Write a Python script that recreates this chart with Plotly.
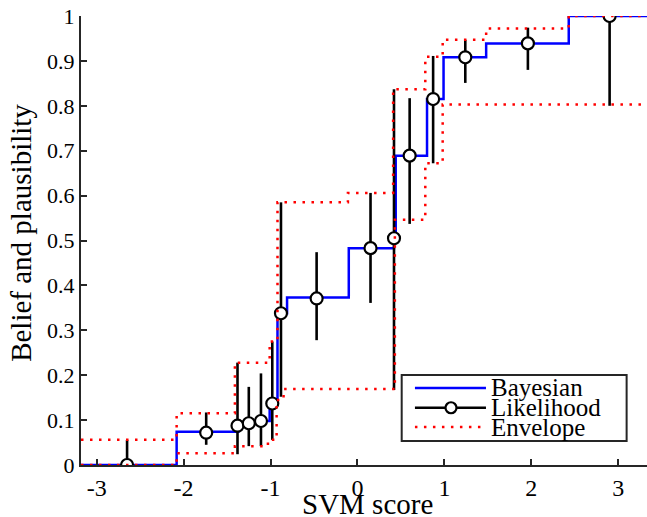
import plotly.graph_objects as go

# Bayesian step function (value holds from x[i] to x[i+1])
bayes_x = [-3.18, -2.08, -1.37, -1.30, -1.17, -1.01, -0.92, -0.81, -0.10, 0.42, 0.44, 0.80, 0.99, 1.48, 2.43, 3.33]
bayes_y = [0.0, 0.074, 0.0875, 0.093, 0.098, 0.137, 0.338, 0.373, 0.483, 0.505, 0.689, 0.815, 0.908, 0.939, 1.0, 1.0]

# Likelihood points with intervals
lik_x = [-2.65, -1.74, -1.38, -1.25, -1.11, -0.98, -0.88, -0.47, 0.15, 0.42, 0.60, 0.87, 1.24, 1.96, 2.90]
lik_y = [0.0, 0.072, 0.0875, 0.093, 0.098, 0.137, 0.338, 0.371, 0.483, 0.505, 0.689, 0.815, 0.908, 0.939, 1.0]
lik_hi = [0.056, 0.117, 0.228, 0.174, 0.204, 0.275, 0.585, 0.474, 0.606, 0.837, 0.817, 0.911, 0.947, 0.974, 1.0]
lik_lo = [0.0, 0.045, 0.024, 0.042, 0.042, 0.056, 0.152, 0.278, 0.361, 0.167, 0.537, 0.672, 0.851, 0.880, 0.80]

# Envelope (upper / lower step functions)
up_x = [-3.18, -2.08, -1.41, -1.01, -0.92, -0.11, 0.41, 0.78, 0.98, 1.48, 2.43, 3.33]
up_y = [0.056, 0.115, 0.228, 0.275, 0.585, 0.606, 0.837, 0.909, 0.947, 0.972, 1.0, 1.0]
lo_x = [-3.18, -2.08, -1.41, -1.03, -0.93, -0.85, 0.43, 0.78, 0.98, 3.33]
lo_y = [0.0, 0.026, 0.042, 0.056, 0.145, 0.169, 0.546, 0.672, 0.803, 0.803]

x_ticks = [-3, -2, -1, 0, 1, 2, 3]
x_ticktext = ["-3", "-2", "-1", "0", "1", "2", "3"]
y_ticks = [0, 0.1, 0.2, 0.3, 0.4, 0.5, 0.6, 0.7, 0.8, 0.9, 1]
y_ticktext = ["0", "0.1", "0.2", "0.3", "0.4", "0.5", "0.6", "0.7", "0.8", "0.9", "1"]

legend_names = ["Bayesian", "Likelihood", "Envelope"]
x_title = "SVM score"
y_title = "Belief and plausibility"

FONT = "Liberation Serif"
FS_XTICK = 24
FS_YTICK = 22
FS_LEG = 25
FS_TITLE = 29
AX = "#262626"
RED_DASH = "2.5px,6.5px"

lik_plus = [h - y for h, y in zip(lik_hi, lik_y)]
lik_minus = [y - l for y, l in zip(lik_y, lik_lo)]

fig = go.Figure()
fig.add_trace(go.Scatter(x=bayes_x, y=bayes_y, mode="lines", line=dict(color="#0000ff", width=2.5, shape="hv"),
                         showlegend=False, name=legend_names[0]))
fig.add_trace(go.Scatter(x=lik_x, y=lik_y, mode="markers",
                         marker=dict(symbol="circle", size=12, color="white", line=dict(color="black", width=2.2)),
                         error_y=dict(type="data", array=lik_plus, arrayminus=lik_minus, color="black",
                                      thickness=2.6, width=0),
                         showlegend=False, name=legend_names[1]))
for xs, ys in ((up_x, up_y), (lo_x, lo_y)):
    fig.add_trace(go.Scatter(x=xs, y=ys, mode="lines",
                             line=dict(color="#ff0000", width=2.5, shape="hv", dash=RED_DASH),
                             showlegend=False, name=legend_names[2]))

# manual legend (paper coordinates)
bx0, bx1, by0, by1 = 0.5666, 0.964, 0.0535, 0.2004
fig.add_shape(type="rect", xref="paper", yref="paper", x0=bx0, x1=bx1, y0=by0, y1=by1,
              line=dict(color=AX, width=2), fillcolor="white", layer="above")
rows = [0.1715, 0.1275, 0.0846]
lx0, lx1, lxm, tx = 0.590, 0.7155, 0.6537, 0.720
styles = [dict(color="#0000ff", width=2.5), dict(color="black", width=2.5),
          dict(color="#ff0000", width=2.5, dash=RED_DASH)]
for ry, st, name in zip(rows, styles, legend_names):
    fig.add_shape(type="line", xref="paper", yref="paper", x0=lx0, x1=lx1, y0=ry, y1=ry, line=st, layer="above")
    fig.add_annotation(x=tx, y=ry, xref="paper", yref="paper", text=name, showarrow=False,
                       xanchor="left", yanchor="middle", font=dict(family=FONT, size=FS_LEG, color="black"))
fig.add_shape(type="circle", xref="paper", yref="paper", xsizemode="pixel", ysizemode="pixel",
              xanchor=lxm, yanchor=rows[1], x0=-5.5, x1=5.5, y0=-5.5, y1=5.5,
              line=dict(color="black", width=2.2), fillcolor="white", layer="above")

# axis titles as annotations (positioned like the reference)
fig.add_annotation(x=0, y=0.517, xref="paper", yref="paper", xshift=-60, text=y_title, textangle=-90,
                   showarrow=False, xanchor="center", yanchor="middle",
                   font=dict(family=FONT, size=FS_TITLE, color="black"))
fig.add_annotation(x=0.507, y=0, xref="paper", yref="paper", yshift=-39, text=x_title,
                   showarrow=False, xanchor="center", yanchor="middle",
                   font=dict(family=FONT, size=FS_TITLE, color="black"))

axis_common = dict(showline=True, linecolor=AX, linewidth=2, ticks="inside", ticklen=6, tickwidth=1.5,
                   tickcolor=AX, showgrid=False, zeroline=False, mirror=False, ticklabeloverflow="allow",
                   automargin=False)
fig.update_xaxes(range=[-3.18, 3.33], tickvals=x_ticks, ticktext=x_ticktext,
                 tickfont=dict(family=FONT, size=FS_XTICK, color="black"), **axis_common)
fig.update_yaxes(range=[0, 1], tickvals=y_ticks, ticktext=y_ticktext,
                 tickfont=dict(family=FONT, size=FS_YTICK, color="black"), **axis_common)
fig.update_layout(width=647, height=517, margin=dict(l=81, r=0, t=16, b=52),
                  plot_bgcolor="white", paper_bgcolor="white", showlegend=False)
# remove the default 8px page margin so the figure fills the window like the reference
fig.write_html("out.html", config={"displayModeBar": False},
               post_script="document.body.style.margin='0';document.body.style.overflow='hidden';")
